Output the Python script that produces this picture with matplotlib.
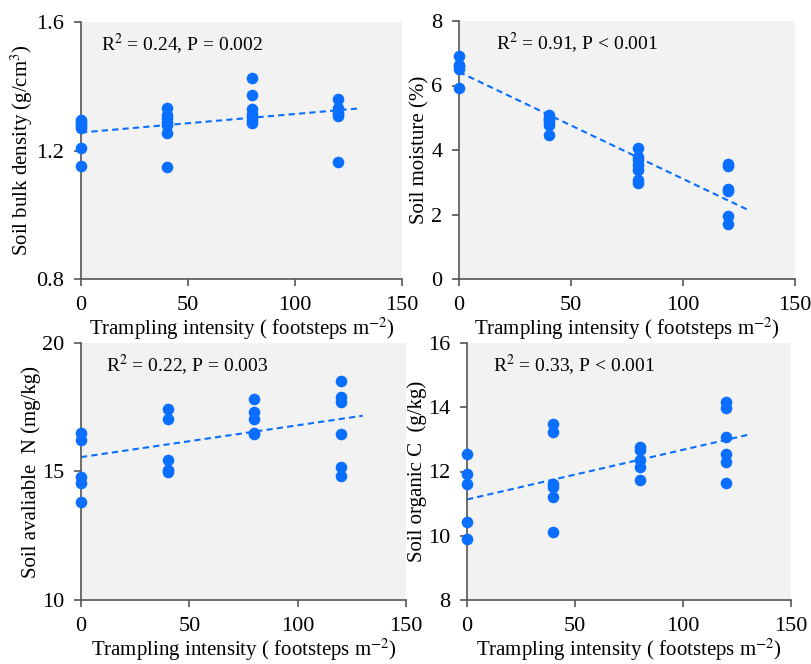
import matplotlib
matplotlib.use("Agg")
import matplotlib.pyplot as plt
import numpy as np

plt.rcParams['font.family'] = ['Liberation Serif', 'DejaVu Serif']
plt.rcParams['mathtext.fontset'] = 'stix'

# ---- data ----
bd_x = [0]*7 + [40]*7 + [80]*7 + [120]*6
bd_y = [1.295, 1.29, 1.282, 1.275, 1.27, 1.207, 1.152,
        1.331, 1.310, 1.300, 1.289, 1.279, 1.256, 1.150,
        1.426, 1.374, 1.328, 1.315, 1.305, 1.295, 1.287,
        1.359, 1.331, 1.320, 1.308, 1.315, 1.164]
bd_fit_x = [0, 130]
bd_fit_y = [1.256, 1.331]

sm_x = [0]*5 + [40]*6 + [80]*7 + [120]*6
sm_y = [6.90, 6.63, 6.52, 6.60, 5.93,
        5.10, 4.97, 4.87, 4.79, 4.95, 4.46,
        4.06, 3.78, 3.68, 3.52, 3.39, 3.06, 2.98,
        3.58, 3.50, 2.80, 2.72, 1.94, 1.72]
sm_fit_x = [0, 130]
sm_fit_y = [6.42, 2.11]

an_x = [0]*5 + [40]*5 + [80]*5 + [120]*6
an_y = [16.48, 16.22, 14.80, 14.54, 13.82,
        17.43, 17.06, 15.45, 15.06, 14.97,
        17.83, 17.33, 17.03, 16.51, 16.44,
        18.51, 17.90, 17.69, 16.46, 15.17, 14.84]
an_fit_x = [0, 130]
an_fit_y = [15.56, 17.17]

oc_x = [0]*5 + [40]*6 + [80]*5 + [120]*6
oc_y = [12.53, 11.92, 11.62, 10.44, 9.90,
        13.49, 13.22, 11.62, 11.51, 11.22, 10.11,
        12.76, 12.68, 12.36, 12.14, 11.74,
        14.15, 13.97, 13.06, 12.55, 12.29, 11.63]
oc_fit_x = [0, 130]
oc_fit_y = [11.13, 13.14]

x_ticks = [0, 50, 100, 150]
xlabel = 'Trampling intensity ( footsteps m$^{\u22122}$)'

panels = [
    dict(x=bd_x, y=bd_y, fx=bd_fit_x, fy=bd_fit_y, ylim=(0.8, 1.6), yticks=[0.8, 1.2, 1.6],
         yfmt='{:.1f}', ylabel='Soil bulk density (g/cm$^{3}$)', txt='R$^{2}$ = 0.24, P = 0.002',
         rect=(81, 22, 402, 279), txtx=0.062),
    dict(x=sm_x, y=sm_y, fx=sm_fit_x, fy=sm_fit_y, ylim=(0, 8), yticks=[0, 2, 4, 6, 8],
         yfmt='{:.0f}', ylabel='Soil moisture (%)', txt='R$^{2}$ = 0.91, P < 0.001',
         rect=(459, 21, 795, 279), txtx=0.11),
    dict(x=an_x, y=an_y, fx=an_fit_x, fy=an_fit_y, ylim=(10, 20), yticks=[10, 15, 20],
         yfmt='{:.0f}', ylabel='Soil avaliable  N (mg/kg)', txt='R$^{2}$ = 0.22, P = 0.003',
         rect=(81, 343, 406, 600), txtx=0.077),
    dict(x=oc_x, y=oc_y, fx=oc_fit_x, fy=oc_fit_y, ylim=(8, 16), yticks=[8, 10, 12, 14, 16],
         yfmt='{:.0f}', ylabel='Soil organic C  (g/kg)', txt='R$^{2}$ = 0.33, P < 0.001',
         rect=(467, 343, 791, 600), txtx=0.08),
]

W, H = 811, 664
fig = plt.figure(figsize=(W/100, H/100), dpi=100)
color = '#0A6EFF'
for p in panels:
    l, t, r, b = p['rect']
    ax = fig.add_axes([l/W, 1 - b/H, (r-l)/W, (b-t)/H])
    ax.set_facecolor('#F2F2F2')
    ax.scatter(p['x'], p['y'], s=70, color=color, zorder=3, linewidths=0, clip_on=False)
    ax.plot(p['fx'], p['fy'], linestyle=(0, (3, 2)), color=color, lw=1.5, zorder=2)
    ax.set_xlim(0, 150)
    ax.set_ylim(*p['ylim'])
    ax.set_xticks(x_ticks)
    ax.set_yticks(p['yticks'])
    ax.set_yticklabels([p['yfmt'].format(v) for v in p['yticks']])
    for s in ['top', 'right']:
        ax.spines[s].set_visible(False)
    for s in ['left', 'bottom']:
        ax.spines[s].set_color('#555555')
        ax.spines[s].set_linewidth(1.2)
    ax.tick_params(direction='out', length=5, width=1.2, color='#555555', labelsize=16, pad=7)
    ax.set_xlabel(xlabel, fontsize=15, labelpad=1)
    ax.set_ylabel(p['ylabel'], fontsize=15, labelpad=1)
    ax.text(p['txtx'], 0.89, p['txt'], transform=ax.transAxes, fontsize=14)

fig.savefig('out.png', dpi=100)
